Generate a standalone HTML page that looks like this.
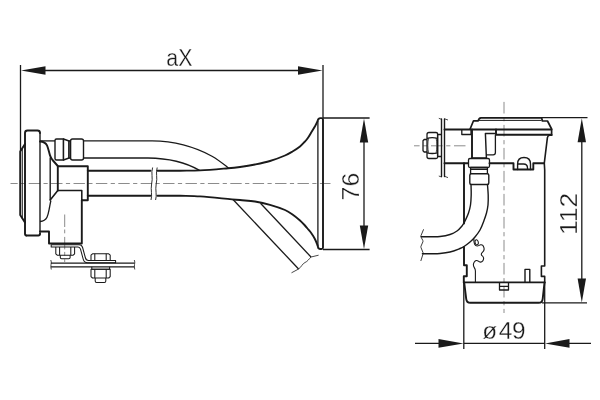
<!DOCTYPE html>
<html>
<head>
<meta charset="utf-8">
<title>Horn dimensions</title>
<style>
html,body{margin:0;padding:0;background:#fff;}
body{width:600px;height:400px;overflow:hidden;}
svg{display:block;will-change:transform;opacity:0.999;}
.k{stroke:#1a1a1a;stroke-width:1.9;fill:none;stroke-linejoin:round;stroke-linecap:round;}
.m{stroke:#1a1a1a;stroke-width:1.4;fill:none;stroke-linejoin:round;stroke-linecap:round;}
.t{stroke:#1a1a1a;stroke-width:1.3;fill:none;stroke-linejoin:round;stroke-linecap:butt;}
.w{stroke:#1a1a1a;stroke-width:1.4;fill:#fff;stroke-linejoin:round;}
.n{stroke-width:1.05;}
.c{stroke:#8c8c8c;stroke-width:1;fill:none;}
.a{fill:#1a1a1a;stroke:none;}
text{font-family:"Liberation Sans",sans-serif;font-size:23.7px;fill:#1a1a1a;stroke:#fff;stroke-width:0.3;}
</style>
</head>
<body>
<svg width="600" height="400" viewBox="0 0 600 400">
<rect width="600" height="400" fill="#fff"/>

<!-- ============ LEFT VIEW ============ -->
<g id="left">
<!-- centre lines -->
<path class="c" d="M10.5 183.5H330.5" stroke-dasharray="11.4 3.4 4.2 3.4" stroke-dashoffset="4.2"/>
<path class="c" d="M64.7 214.5V262" stroke-dasharray="12.5 2.5 3.8 3.6"/>

<!-- dimension aX -->
<path class="t" d="M20.5 65V151"/>
<path class="t" d="M323 65V118"/>
<path class="t" d="M40 70.5H305"/>
<path class="a" d="M21 70.5L45.5 66.2V74.8Z"/>
<path class="a" d="M322.5 70.5L298 66.2V74.8Z"/>
<text transform="translate(166.3 65.9) scale(0.9 1)">aX</text>

<!-- dimension 76 -->
<path class="t" d="M323 118H369.6"/>
<path class="t" d="M323 249.5H369.6"/>
<path class="t" d="M364 135V232"/>
<path class="a" d="M364 118.5L359.8 142.5H368.2Z"/>
<path class="a" d="M364 249L359.8 225.5H368.2Z"/>
<text transform="translate(359 200.4) rotate(-90) scale(1.05 1)">76</text>

<!-- disc -->
<path class="k" d="M26.2 235.5Q25 235.5 25 234.3V133Q25 130.5 27.5 130.5H37.5Q40 130.5 40 133"/>
<path class="k" d="M26.2 235.5H38.3Q40 235.5 40 233.8"/>
<path class="m" d="M40 133V234"/>
<path class="k" d="M25 144L20.2 151.5V215L25 222.5"/>
<path class="t" d="M22.3 149V218.5" style="stroke-width:1"/>
<!-- neck curves -->
<path class="k" d="M40 141.5C43 141.6 45.6 142.6 47 145.4C48.3 148.2 48.9 152 50 155.4C50.6 157.2 51.5 158.8 52.5 160L57.8 166"/>
<path class="t" d="M40 221.5C43 221.3 45.6 220 47 217.2C48.3 214.5 48.8 211 49.5 207.5C50 205 50.4 202.5 50.9 200.5"/>
<path class="m" d="M50.2 158V200"/>
<path class="m" d="M50.2 200L57.8 190.5" style="stroke-width:1.6"/>
<!-- body box -->
<path class="k" d="M57.8 190.5V166.2H87.8V200.2H81.8"/>
<path class="m" d="M57.8 190.5H81.8V200.2" style="stroke-width:1.55"/>
<path class="k" d="M81.8 200.2V243.5H49V231.5H40"/>
<!-- main tube -->
<path class="k" d="M87.8 170.7H150.5"/>
<path class="k" d="M87.8 195.7H150.5"/>
<path class="k" d="M157.5 170.7H180C186.6 170.6 193.4 170.7 200.0 170.4C209.3 169.9 218.8 169.0 228.0 168.2C232.0 167.9 236.1 167.5 240.0 167.0C245.0 166.3 250.1 165.5 255.0 164.5C260.0 163.5 265.1 162.5 270.0 161.0C275.0 159.5 280.1 157.6 285.0 155.5C287.6 154.4 290.1 152.9 292.5 151.5C295.1 150.0 297.7 148.3 300.0 146.5C301.6 145.2 303.1 143.5 304.5 142.0C305.5 140.9 306.6 139.7 307.5 138.5C308.9 136.6 310.0 134.5 311.2 132.5C312.5 130.5 313.8 128.4 315.0 126.3C315.8 124.8 316.5 123.3 317.2 121.8C317.6 120.9 318.0 120.0 318.4 119.2"/>
<path class="k" d="M157.5 195.7H180C186.6 195.9 193.4 195.9 200.0 196.4C210.6 197.2 221.4 198.4 232.0 199.4C234.6 199.6 237.4 199.8 240.0 200.0C245.0 200.5 250.1 200.7 255.0 201.5C260.0 202.3 265.1 203.4 270.0 204.8C275.0 206.2 280.2 207.9 285.0 210.0C287.6 211.1 290.1 212.8 292.5 214.5C295.1 216.3 297.6 218.4 300.0 220.5C301.6 221.9 303.1 223.5 304.5 225.0C305.5 226.1 306.5 227.3 307.5 228.5C308.7 230.0 310.1 231.4 311.2 233.0C312.6 235.0 313.9 237.1 315.0 239.2C315.9 240.9 316.6 242.7 317.2 244.5C317.7 245.6 318.0 246.8 318.4 248.0"/>
<!-- break marks -->
<path class="t" d="M152.6 167.5C150.8 173 153.2 178 151.6 184C150.4 190 152.6 195 151 200" style="stroke-width:0.9"/>
<path class="t" d="M157.2 167.5C155.4 173 157.8 178 156.2 184C155 190 157.2 195 155.6 200" style="stroke-width:0.9"/>
<!-- bell -->
<path class="t" d="M317.9 121V246"/>
<path class="k" d="M318.4 119.2Q318.8 118.1 320 118.1H321.5Q323 118.1 323 119.6V247.5Q323 249 321.5 249H320Q318.8 249 318.4 248"/>
<!-- small upper tube -->
<path class="t" d="M40 140.9H55"/>
<path class="t" d="M83.5 140.9H152C175 141.2 196 147.5 212 156.2C219 160.2 224 164.5 228.5 168"/>
<path class="t" d="M83.5 158H148C168 158.2 186 162.5 199.5 170.4"/>
<!-- fittings -->
<path class="w" d="M56.5 139H63.5V160H56.5Q55 160 55 158.5V140.5Q55 139 56.5 139Z"/>
<path class="w" d="M63.5 139L69 141V158L63.5 160Z"/>
<path class="w" d="M69 141H70.6V158H69Z"/>
<path class="w" d="M72.5 139H81.5Q83.5 139 83.5 141V158Q83.5 160 81.5 160H72.5Q70.6 160 70.6 158V141Q70.6 139 72.5 139Z"/>
<!-- diagonal tubes -->
<path class="t" d="M233 199.5L298.6 269"/>
<path class="t" d="M260.5 203.2L311 257"/>
<path class="t" d="M291.5 272.8L298.6 269C301 267.5 302.5 263.5 305 262.5C307.5 261.5 309 259 311 257L318.6 255.2" style="stroke-width:0.8"/>

<!-- bracket & nuts -->
<path class="t n" d="M51.2 244.7H79C81 244.7 82 245.5 82.6 247.5L85.3 257.5C85.8 259.5 86.8 260.4 88.5 260.4H115.6V262.8H87.5C85 262.8 83.8 261.5 83.2 259.2L80.5 249.2C80 247.5 79.4 247 78 247H51.2Z"/>
<path class="t" d="M51 263.2H134.5"/>
<path class="t" d="M51 266.8H134.5"/>
<path class="t n" d="M50.8 260C52.3 262.5 49.8 266 51.3 269.5" style="stroke-width:0.8"/>
<path class="t n" d="M134.3 260C135.8 262.5 133.3 266 134.8 269.5" style="stroke-width:0.8"/>
<!-- nut 1 -->
<path class="t n" d="M55.8 247V253.8L57.2 255.2H73.2L74.6 253.8V247"/>
<path class="t n" d="M59.6 247V255.2M70.8 247V255.2"/>
<path class="t n" d="M60.3 255.2V257.5Q60.3 258.8 61.6 258.8H68.8Q70.1 258.8 70.1 257.5V255.2"/>
<!-- nut 2 -->
<path class="t n" d="M91 260.4V255.2L92.5 253.8H108.7L110.2 255.2V260.4"/>
<path class="t n" d="M94.8 253.8V260.4M106.2 253.8V260.4"/>
<!-- washer + nut 3 -->
<path class="t n" d="M91.8 266.8V269.3H109.6V266.8"/>
<path class="t n" d="M91 269.3V276.6L92.5 278H108.7L110.2 276.6V269.3Z"/>
<path class="t n" d="M94.8 269.3V278M106.2 269.3V278"/>
<path class="t n" d="M95.2 278V281Q95.2 282.4 96.6 282.4H104.4Q105.8 282.4 105.8 281V278"/>
</g>

<!-- ============ RIGHT VIEW ============ -->
<g id="right">
<!-- centre lines -->
<path class="c" d="M504 101.9V313" stroke-dasharray="11.6 3.6 4.2 3.6"/>
<path class="c" d="M414 145.8H465.5" stroke-dasharray="11.6 3.6 4.2 3.6" stroke-dashoffset="6"/>

<!-- dimension 112 -->
<path class="t" d="M542 117.6H587.5"/>
<path class="t" d="M542 302.9H587"/>
<path class="t" d="M581.8 135V286"/>
<path class="a" d="M581.8 118.2L577.6 142.3H586Z"/>
<path class="a" d="M581.8 302.5L577.6 278.5H586Z"/>
<text transform="translate(577.1 235) rotate(-90) scale(1.115 1)">112</text>

<!-- dimension 49 -->
<path class="t" d="M463.8 283V349"/>
<path class="t" d="M544.7 283V349"/>
<path class="t" d="M415 343.4H440M464 343.4H544.7M568 343.4H591"/>
<path class="a" d="M463.5 343.4L438.5 339.1V347.7Z"/>
<path class="a" d="M545 343.4L569.5 339.1V347.7Z"/>
<text transform="scale(1.03 1)" y="338.6"><tspan x="468.2">ø</tspan><tspan x="484.3">4</tspan><tspan x="497.2">9</tspan></text>

<!-- mounting plate -->
<path class="m" d="M441.5 119V176.5M444.5 119V176.5"/>
<path class="t" d="M438.8 118.3L441.5 119.3M444.5 118.8L448 120" style="stroke-width:0.8"/>
<path class="t" d="M438.8 176L441.5 177M444.5 176.3L448 177.6" style="stroke-width:0.8"/>
<!-- nut on plate -->
<path class="t" d="M437.6 134.5H441.5M437.6 156.5H441.5M437.6 134.5V156.5"/>
<path class="t" d="M429 132.5H436Q437.6 132.5 437.6 134V157Q437.6 158.5 436 158.5H429Q427 158.5 427 156.5V134.5Q427 132.5 429 132.5Z"/>
<path class="t" d="M427 138.3C430 137.5 434.5 137.5 437.6 138.3M427 152.8C430 153.6 434.5 153.6 437.6 152.8"/>
<path class="t" d="M428.5 138.2C427.6 143 427.6 148 428.5 152.8M436.2 138.2C437 143 437 148 436.2 152.8" style="stroke-width:0.8"/>
<path class="t" d="M427 139.5H424.2L423 140.8V150.8L424.2 152H427"/>

<!-- bracket -->
<path class="k" d="M444.5 129.5H551.5"/>
<path class="k" d="M444.5 163.3H468.5"/>
<path class="k" d="M464 163.3V223.5M464 247V265.2H466.8V276.2H463.8V282.5"/>
<path class="t" d="M461.8 130V134.5H471V130"/>
<!-- cap -->
<path class="k" d="M470 129.3L473.5 120.8H478.2Q478.8 118 481 117.8H541.6L542.4 121H547.5L551.6 129V135" style="stroke-width:1.7"/>
<path class="t" d="M479 120.4H541.5" style="stroke-width:1"/>
<path class="k" d="M496 129.5V134.7H551.5"/>
<path class="m" d="M551.6 135.3H549.6Q547.7 135.5 547.4 137.6L544.3 163.2L544.7 170V266H541.4V276.4H544.7V282.5" style="stroke-width:1.6"/>
<!-- inner parts -->
<path class="k" d="M472 129.5V158.3H486"/>
<path class="t" d="M486.4 158.3L485.4 133.5H495.4" style="stroke-width:1.45"/>
<path class="t" d="M495.4 134.8V152.5Q495.4 154.8 493.2 154.8H486.5"/>
<!-- hose fittings -->
<path class="w" d="M470 158.5H488Q489.5 158.5 489.5 160V166Q489.5 167.5 488 167.5H470Q468.5 167.5 468.5 166V160Q468.5 158.5 470 158.5Z" style="stroke-width:1.3"/>
<path class="w" d="M470.6 167.5H487.4V174.2H470.6Z" style="stroke-width:1.3"/>
<path class="m" d="M470.6 169.2H487.4"/>
<path class="w" d="M471.3 173.7H487.3Q488.8 173.7 488.8 175.2V183Q488.8 184.5 487.3 184.5H471.3Q469.8 184.5 469.8 183V175.2Q469.8 173.7 471.3 173.7Z" style="stroke-width:1.4"/>
<!-- body top edge / notch -->
<path class="k" d="M489.5 163.3H513.5V169.5H533.3V163.3H544"/>
<path class="m" d="M517.6 169.5V164Q517.6 157.5 524 157.5Q530.5 157.5 530.5 164V169.5"/>
<path class="t" d="M518 164H523.5Q527.5 164 527.5 168V169.5"/>
<!-- hose -->
<path class="m" d="M487.5 184.5C487.7 188.0 488.1 191.5 488.2 195.0C488.3 198.3 488.3 201.7 488.0 205.0C487.7 207.7 487.2 210.4 486.5 213.0C485.8 215.5 484.9 218.1 484.0 220.5C482.8 223.7 481.6 227.0 480.0 230.0C478.6 232.5 476.8 234.8 475.0 237.0C473.5 238.8 471.8 240.5 470.0 242.0C468.1 243.6 466.1 245.2 464.0 246.5C462.8 247.3 461.4 248.0 460.0 248.5C456.7 249.8 453.4 251.2 450.0 252.0C446.8 252.8 443.3 253.2 440.0 253.5C436.7 253.8 433.3 253.7 430.0 253.8C427.5 253.8 424.9 253.8 422.4 253.8"/>
<path class="m" d="M471.0 184.5C471.1 188.0 471.3 191.5 471.2 195.0C471.1 198.3 471.0 201.7 470.5 205.0C470.1 207.7 469.4 210.4 468.5 213.0C467.7 215.4 466.5 217.7 465.5 220.0C465.0 221.0 464.6 222.0 464.0 223.0C463.4 224.0 462.8 225.1 462.0 226.0C460.5 227.8 458.9 229.7 457.0 231.0C454.9 232.5 452.5 233.7 450.0 234.5C446.8 235.5 443.3 236.1 440.0 236.5C436.7 236.9 433.3 236.7 430.0 236.7C427.1 236.7 424.2 236.7 421.3 236.7"/>
<path class="t" d="M423.6 229.3L421 235.6Q420.6 236.6 421.2 237.4L422.8 240.4Q423.2 241.2 422.8 242L421 246.2Q420.6 247 421.1 247.8L423 252.6Q423.3 253.6 422.9 254.4L420.8 261" style="stroke-width:0.85"/>
<!-- squiggle -->
<ellipse cx="476.7" cy="242.3" rx="1.6" ry="2.6" transform="rotate(-12 476.7 242.3)" class="t" style="stroke-width:1"/>
<path class="t" d="M473.9 238.8C473.6 243.5 475 246 477.2 246C478.6 246 479.4 245 480.6 244.8C482.2 244.5 483.4 245.8 483.9 247.6C484.5 249.7 483.9 251.3 482.4 252.4C481 253.4 480.9 254.9 482.3 255.9C483.9 257 484 259.2 482.8 260.8C481.5 262.5 479.6 262.5 478.3 261.2C477 259.9 475.4 260.3 474.3 262C473.1 263.9 473.2 266 474.3 267.6C475.1 268.8 475.4 269.6 475.4 271V282.4" style="stroke-width:1.1"/>
<!-- bottom -->
<path class="k" d="M463.8 282.4H544.7"/>
<path class="m" d="M525 282V269.4H529.8V282"/>
<path class="k" d="M464.2 282.5L466.2 298.8Q466.7 302.8 470.3 302.8H538.6Q542.2 302.8 542.7 298.8L544.5 282.5"/>
<path class="t" d="M499.5 282.5V290H508.5V282.5M499.5 286.4H508.5"/>
</g>
</svg>
</body>
</html>
